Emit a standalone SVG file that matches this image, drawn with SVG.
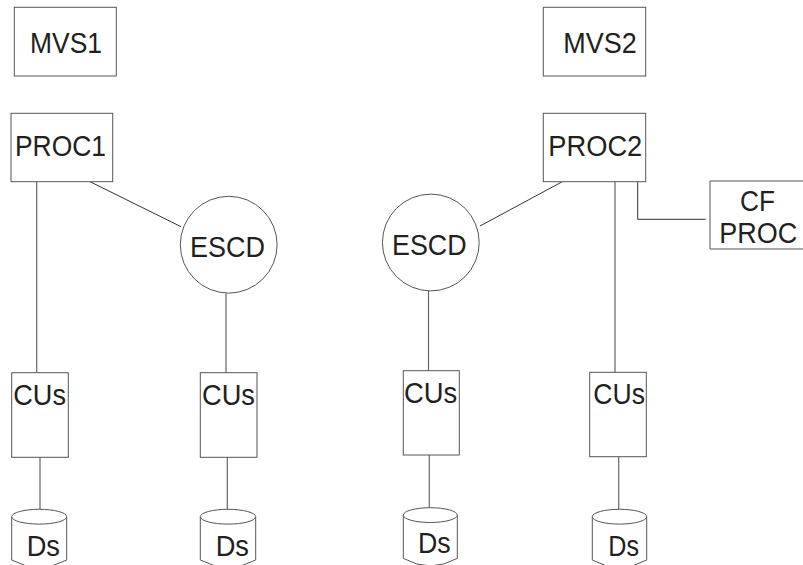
<svg xmlns="http://www.w3.org/2000/svg" width="803" height="565" viewBox="0 0 803 565">
<style>
.box{fill:#fff;stroke:#555;stroke-width:1}
.ln{fill:none;stroke:#666;stroke-width:1.2}
.dg{fill:none;stroke:#333;stroke-width:1}
text{font-family:"Liberation Sans",Arial,sans-serif;font-size:29px;fill:#231f20}
</style>
<rect width="803" height="565" fill="#fff"/>
<g id="connectors">
<line class="ln" x1="36.7" y1="181.7" x2="36.7" y2="372.7"/>
<line class="dg" x1="90" y1="181.7" x2="181" y2="226.7"/>
<line class="ln" x1="226" y1="293.5" x2="226" y2="372.7"/>
<line class="ln" x1="40" y1="457.3" x2="40" y2="509.3"/>
<line class="ln" x1="227.3" y1="457.3" x2="227.3" y2="509.3"/>
<line class="dg" x1="562.3" y1="181.7" x2="480" y2="226"/>
<line class="ln" x1="428.5" y1="291" x2="428.5" y2="370.7"/>
<line class="ln" x1="429.3" y1="455" x2="429.3" y2="507.7"/>
<line class="ln" x1="615" y1="181.7" x2="615" y2="372.3"/>
<line class="ln" x1="618.7" y1="456.7" x2="618.7" y2="509.3"/>
<polyline class="dg" points="637.7,181.7 637.7,219.3 705.7,219.3"/>
</g>
<g id="mvs1"><rect class="box" x="14.3" y="7.3" width="102" height="68.7"/><text x="30" y="53" textLength="72" lengthAdjust="spacingAndGlyphs">MVS1</text></g>
<g id="mvs2"><rect class="box" x="543.3" y="7.3" width="102.4" height="68.7"/><text x="563.3" y="53" textLength="73.4" lengthAdjust="spacingAndGlyphs">MVS2</text></g>
<g id="proc1"><rect class="box" x="11" y="113.3" width="101.7" height="68.4"/><text x="15" y="156" textLength="91" lengthAdjust="spacingAndGlyphs">PROC1</text></g>
<g id="proc2"><rect class="box" x="543.3" y="113.3" width="102.4" height="68.4"/><text x="548.3" y="156" textLength="94" lengthAdjust="spacingAndGlyphs">PROC2</text></g>
<g id="cfproc"><path class="box" d="M803,181 H710 V249 H803"/><text x="740" y="210.7" textLength="35" lengthAdjust="spacingAndGlyphs">CF</text><text x="719.3" y="243.3" textLength="78" lengthAdjust="spacingAndGlyphs">PROC</text></g>
<g id="escd1"><circle class="box" cx="228.7" cy="244.7" r="48.4"/><text x="190" y="256.7" textLength="75" lengthAdjust="spacingAndGlyphs">ESCD</text></g>
<g id="escd2"><circle class="box" cx="430.8" cy="242.5" r="48.4"/><text x="392" y="254.5" textLength="74.5" lengthAdjust="spacingAndGlyphs">ESCD</text></g>
<g id="cu1"><rect class="box" x="11.7" y="372.7" width="56.6" height="84.6"/><text x="13.3" y="405" textLength="52.7" lengthAdjust="spacingAndGlyphs">CUs</text></g>
<g id="cu2"><rect class="box" x="200.3" y="372.7" width="56.7" height="84.6"/><text x="202" y="405" textLength="53" lengthAdjust="spacingAndGlyphs">CUs</text></g>
<g id="cu3"><rect class="box" x="403.3" y="370.7" width="56" height="84.3"/><text x="404" y="403.3" textLength="53.3" lengthAdjust="spacingAndGlyphs">CUs</text></g>
<g id="cu4"><rect class="box" x="589.7" y="372.3" width="56.6" height="84.4"/><text x="593.3" y="404" textLength="51.7" lengthAdjust="spacingAndGlyphs">CUs</text></g>
<g id="ds1"><path class="box" d="M11.7,516.7 A27.5,7.4 0 0 1 66.7,516.7 V560 Q39.2,575 11.7,560 Z"/><path class="box" d="M11.7,516.7 A27.5,7.4 0 0 0 66.7,516.7"/><text x="26.7" y="555.7" textLength="33.3" lengthAdjust="spacingAndGlyphs">Ds</text></g>
<g id="ds2"><path class="box" d="M200.3,516.7 A27.7,7.4 0 0 1 255.7,516.7 V560 Q228,575 200.3,560 Z"/><path class="box" d="M200.3,516.7 A27.7,7.4 0 0 0 255.7,516.7"/><text x="215.7" y="555.7" textLength="33.3" lengthAdjust="spacingAndGlyphs">Ds</text></g>
<g id="ds3"><path class="box" d="M403.3,515.1 A27,7.4 0 0 1 457.3,515.1 V558.4 Q430.3,573.4 403.3,558.4 Z"/><path class="box" d="M403.3,515.1 A27,7.4 0 0 0 457.3,515.1"/><text x="418" y="553.3" textLength="32.7" lengthAdjust="spacingAndGlyphs">Ds</text></g>
<g id="ds4"><path class="box" d="M592.3,516.7 A27.2,7.4 0 0 1 646.7,516.7 V560 Q619.5,575 592.3,560 Z"/><path class="box" d="M592.3,516.7 A27.2,7.4 0 0 0 646.7,516.7"/><text x="608.3" y="555.7" textLength="30.7" lengthAdjust="spacingAndGlyphs">Ds</text></g>
</svg>
